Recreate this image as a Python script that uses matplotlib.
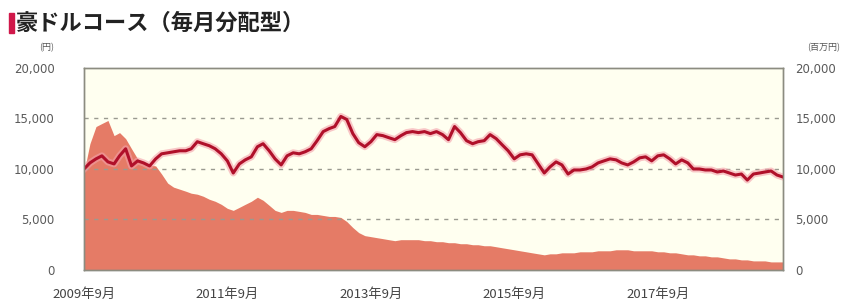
import matplotlib.pyplot as plt
from matplotlib.patches import Rectangle
import pandas as pd

plt.rcParams['font.family'] = ['Noto Sans CJK JP', 'DejaVu Sans']

# monthly values, 2009年9月 .. 2019年6月
start_month = '2009-09-01'

nav = [  # 基準価額 (円)
    10000, 10600, 11000, 11300, 10700, 10500, 11300, 12000, 10300, 10800,
    10600, 10300, 11000, 11500, 11600, 11700, 11800, 11800, 12000, 12700,
    12500, 12300, 12000, 11500, 10800, 9600, 10500, 10900, 11200, 12200,
    12500, 11800, 11000, 10400, 11300, 11600, 11500, 11700, 12000, 12800,
    13700, 14000, 14200, 15200, 14900, 13500, 12600, 12200, 12700, 13400,
    13300, 13100, 12900, 13300, 13600, 13700, 13600, 13700, 13500, 13700,
    13400, 12900, 14200, 13600, 12800, 12500, 12700, 12800, 13400, 13000,
    12400, 11800, 11000, 11400, 11500, 11400, 10500, 9600, 10200, 10700,
    10400, 9500, 9900, 9900, 10000, 10200, 10600, 10800, 11000, 10900,
    10600, 10400, 10700, 11100, 11200, 10800, 11300, 11400, 11000, 10500,
    10900, 10600, 10000, 10000, 9900, 9900, 9700, 9800, 9600, 9400,
    9500, 8900, 9500, 9600, 9700, 9800, 9400, 9200,
]

aum = [  # 純資産総額 (百万円)
    9700, 12500, 14200, 14500, 14800, 13300, 13600, 13000, 12000, 11000,
    10600, 10400, 10300, 9500, 8600, 8200, 8000, 7800, 7600, 7500,
    7300, 7000, 6800, 6500, 6100, 5900, 6200, 6500, 6800, 7200,
    6900, 6400, 5900, 5700, 5900, 5900, 5800, 5700, 5500, 5500,
    5400, 5300, 5300, 5200, 4800, 4200, 3700, 3400, 3300, 3200,
    3100, 3000, 2900, 3000, 3000, 3000, 3000, 2900, 2900, 2800,
    2800, 2700, 2700, 2600, 2600, 2500, 2500, 2400, 2400, 2300,
    2200, 2100, 2000, 1900, 1800, 1700, 1600, 1500, 1600, 1600,
    1700, 1700, 1700, 1800, 1800, 1800, 1900, 1900, 1900, 2000,
    2000, 2000, 1900, 1900, 1900, 1900, 1800, 1800, 1700, 1700,
    1600, 1500, 1500, 1400, 1400, 1300, 1300, 1200, 1100, 1100,
    1000, 1000, 900, 900, 900, 800, 800, 800,
]

y_ticks = [0, 5000, 10000, 15000, 20000]
x_tick_dates = ['2009-09-01', '2011-09-01', '2013-09-01', '2015-09-01', '2017-09-01']
x_tick_labels = ['2009年9月', '2011年9月', '2013年9月', '2015年9月', '2017年9月']

dates = pd.date_range(start_month, periods=len(nav), freq='MS')

fig = plt.figure(figsize=(8.53, 3.02), dpi=100)
ax = fig.add_axes([0.0985, 0.106, 0.8195, 0.669])
ax2 = ax.twinx()

ax.set_facecolor('#fffff0')
ax.fill_between(dates, aum, 0, color='#e57b66', lw=0, zorder=1)
for v in y_ticks[1:-1]:
    ax.axhline(v, color='#9a9a90', lw=1.0, ls=(0, (3, 4)), zorder=2)
# pink halo under the dark red line
ax.plot(dates, nav, color='#f4a0aa', lw=5, alpha=0.6, zorder=3)
ax.plot(dates, nav, color='#b0102a', lw=2.2, zorder=4)

for a in (ax, ax2):
    a.set_ylim(0, 20000)
    a.set_yticks(y_ticks)
    a.set_yticklabels([f'{v:,}' for v in y_ticks], family='DejaVu Sans')
    a.tick_params(length=0, labelsize=8.5, labelcolor='#5a5a5a')
    for s in a.spines.values():
        s.set_color('#8c8c80')
        s.set_linewidth(1.0)
ax.tick_params(axis='y', pad=21)
ax2.tick_params(axis='y', pad=9)

ax.set_xlim(dates[0], dates[-1])
ax.set_xticks(pd.to_datetime(x_tick_dates))
ax.set_xticklabels(x_tick_labels)
ax.tick_params(axis='x', labelsize=9.5, pad=13, labelcolor='#444444')

fig.text(0.055, 0.835, '(円)', fontsize=6.5, color='#555555', ha='center')
fig.text(0.965, 0.835, '(百万円)', fontsize=6.5, color='#555555', ha='center')

fig.patches.append(Rectangle((0.011, 0.89), 0.005, 0.066, transform=fig.transFigure,
                             color='#d0184a', figure=fig))
fig.text(0.019, 0.922, '豪ドルコース（毎月分配型）', fontsize=16, fontweight='bold',
         color='#222222', va='center')

plt.savefig('out.png', dpi=100)
